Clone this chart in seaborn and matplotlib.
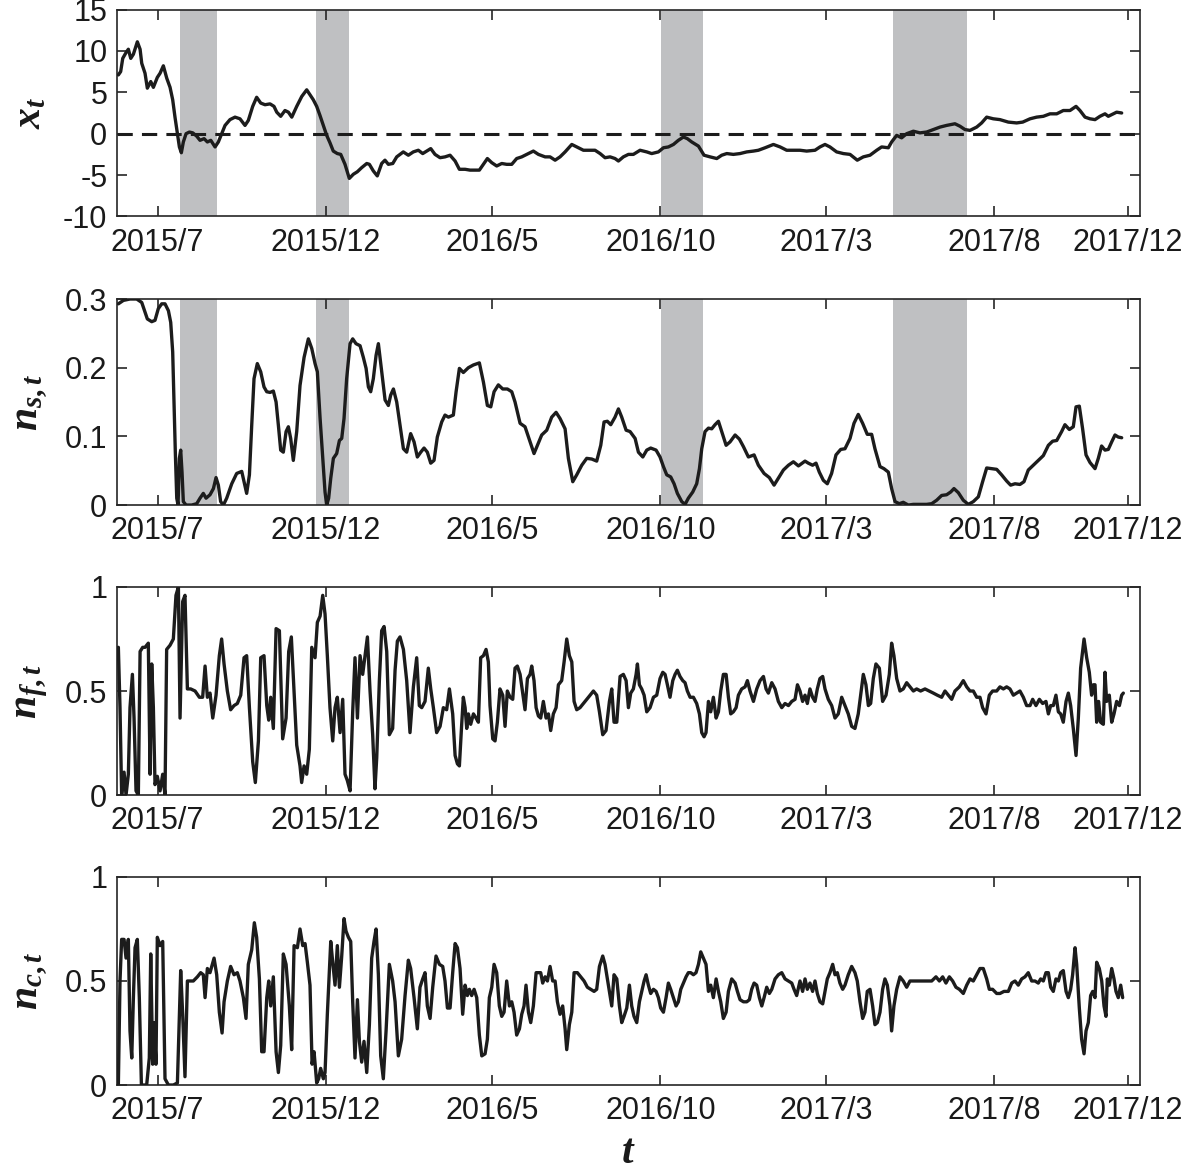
import pandas as pd
import matplotlib
matplotlib.use('Agg')
import matplotlib.pyplot as plt
import seaborn as sns

# day 0 of the time axis
start = pd.Timestamp('2015-05-25')

# x_t
xt_day = [1.2, 3.3, 5.2, 8.2, 10.3, 12.5, 14.9, 18.5, 21, 22.5, 25.5, 27.6, 30.7, 33.1, 36.7, 39.2, 42.2, 45.3,
          48.3, 50.7, 52.8, 55, 56.8, 58.6, 60.4, 62.9, 65.9, 69, 72.6, 75.6, 79.3, 82.3, 85.4, 89.3, 92.3, 95.4,
          98.4, 102.9, 107.5, 112, 116.6, 119.6, 123.6, 127.2, 130.9, 134.8, 139.4, 143, 145.5, 149.1, 153, 156.1,
          159.2, 163.7, 168.3, 172.8, 175.8, 178.8, 181.9, 184.9, 187.9, 191, 194, 197, 200.7, 203.8, 207.7, 211.6,
          215.3, 218.9, 222.9, 227.5, 229.9, 233.5, 237.1, 241.1, 244.1, 247.2, 251.2, 254.8, 260.8, 265.4, 269.9,
          274.5, 278.5, 282.1, 285.8, 289.7, 294.3, 298.8,
          303.4, 308, 311.9, 317.1, 321.6, 326.2, 330.1, 333.8, 337.4, 341.4, 345.9, 350.5, 355, 359.6, 364.1,
          368.7, 373.2, 379.3, 383.9, 390, 394.5, 399.1, 403.6, 408.2, 414.3, 420.3, 424.9, 431, 435.5, 440.1,
          444.6, 449.2, 453.7, 456.8, 461.3, 465.9, 470.4, 476.5, 482.6, 487.1, 493.2, 497.8, 502.3, 506.9, 511.4,
          516, 519.6, 523.6, 529.7, 534.8, 540.3, 546.4, 550.9, 555.5, 561.5, 567.6, 573.7, 579.8, 584.3, 590.4,
          598, 604.1, 610.1, 616.2,
          622.2, 628.3, 635.9, 640.4, 645, 649.5, 655.6, 661.7, 667.8, 674.4, 679.9, 686, 692.1, 696.6, 702.7,
          705.7, 710.3, 714.8, 719.4, 725.5, 731.5, 737.6, 743.7, 749.8, 755.8, 763.4, 768, 772.5, 777.1, 783.2,
          787.7, 792.3, 798.3, 804.4, 812, 819.6, 825.1, 831.8, 837.8, 843.9, 850, 856.1, 862.1, 868.2, 873.7,
          877.3, 881.9, 886.4, 891, 895.5, 900.1, 903.1, 907.7, 910.7, 915.3]
xt_val = [7.1, 7.5, 9.1, 9.8, 10.2, 9.1, 9.6, 11.1, 10.2, 8.5, 7.3, 5.5, 6.3, 5.6, 6.8, 7.3, 8.2, 6.7, 5.6, 4.1,
          2.0, 0, -1.6, -2.3, -1.0, 0, 0.2, 0.1, -0.3, -0.8, -0.6, -1.0, -0.8, -1.6, -1.0, 0, 1.0, 1.7, 2.0, 1.8,
          1.0, 1.6, 3.3, 4.4, 3.7, 3.5, 3.6, 3.3, 2.6, 2.1, 2.8, 2.6, 2.0, 3.3, 4.5, 5.3, 4.7, 4.1, 3.3, 2.2, 1.0,
          -0.2, -1.1, -2.1, -2.4, -2.5, -3.7, -5.4, -4.9, -4.6, -4.1, -3.6, -3.7, -4.5, -5.1, -3.6, -3.2, -3.7,
          -3.6, -2.8, -2.2, -2.6, -2.2, -2.0, -2.4, -2.1, -1.8, -2.5, -2.9, -2.8,
          -2.6, -3.3, -4.3, -4.3, -4.4, -4.4, -4.4, -3.7, -3.0, -3.5, -3.9, -3.6, -3.7, -3.7, -3.0, -2.8, -2.5,
          -2.1, -2.5, -2.8, -2.8, -3.2, -2.8, -2.2, -1.3, -1.7, -2.0, -2.0, -2.0, -2.4, -2.9, -2.8, -3.0, -3.3,
          -2.8, -2.5, -2.5, -2.0, -2.2, -2.4, -2.2, -1.7, -1.6, -1.3, -0.8, -0.4, -0.6, -1.0, -1.5, -2.6, -2.8,
          -3.0, -2.6, -2.4, -2.5, -2.4, -2.2, -2.1, -2.0, -1.7, -1.3, -1.6, -2.0, -2.0,
          -2.0, -2.1, -2.0, -1.6, -1.3, -1.6, -2.2, -2.4, -2.5, -3.2, -2.8, -2.6, -2.0, -1.6, -1.7, -1.0, -0.2,
          -0.5, 0, 0.3, 0.1, 0.2, 0.5, 0.8, 1.0, 1.2, 0.9, 0.5, 0.4, 0.8, 1.3, 2.0, 1.8, 1.7, 1.4, 1.3, 1.4, 1.8,
          2.0, 2.1, 2.4, 2.4, 2.8, 2.8, 3.3, 2.8, 2.0, 1.8, 1.7, 2.1, 2.4, 2.1, 2.4, 2.6, 2.5]

# n_s,t
ns_day = [1.2, 5.8, 11.8, 17.9, 22.5, 25.5, 27.6, 31.6, 34.6, 37.6, 40.7, 43.7, 46.8, 48.9, 50.7, 51.9, 53.1, 54.4,
          55.6, 56.8, 58, 59.2, 60.4, 62.9, 68, 72.6, 75.6, 78.6, 81.1, 84.7, 87.8, 90.2, 92.3, 94.4, 96.9, 99.9,
          104.5, 109, 113.6, 115.7, 118.1, 120.6, 122.7, 124.8, 127.8, 130.9, 133.9, 136.4, 139.4, 142.4, 144.9,
          147, 149.1, 151.5, 154, 156.1, 158.2, 160.6, 163.7, 166.7, 170.4, 174.3, 177.4, 180.4, 182.5, 185, 187.4,
          189.5, 191, 192.8, 194.7, 197.1, 200.1, 202.6, 204.7, 206.8, 209.2, 212.3, 214.7, 217.7, 221.4, 224.4,
          226.9, 229, 231.1, 233.5, 236, 238.1, 241.1, 244.2, 247.2, 249.3, 251.8, 254.8, 257.8, 260.9, 263.9,
          267.5, 270.6, 273.6, 276.7, 279.7, 282.7, 285.8, 288.8, 291.8, 295.8, 298.8, 301.9,
          306.4, 308.9, 311.9, 315.5, 320.1, 324.7, 330.1, 333.8, 337.4, 340.5, 343.5, 347.4, 351.4, 355.6, 359.6,
          362.6, 367.2, 371.7, 376.3, 379.9, 383, 386.9, 391.5, 396, 400, 403.6, 408.2, 411.2, 415.2, 418.8,
          423.4, 427.9, 432.5, 437, 440.7, 443.7, 446.7, 449.8, 453.7, 456.8, 459.8, 463.8, 467.4, 472, 475, 479,
          482.6, 486.2, 491.1, 494.7, 497.8, 500.8, 504.4, 507.5, 510.5, 514.5, 517.5, 520.5, 524.5, 528.1, 530.6,
          532.7, 535.7, 538.8, 541.8, 544.8, 547.9, 550.9, 554.9, 558.5, 563.1, 567, 570.7, 575.2, 580.4, 584.3,
          589.5, 594.3, 598.6, 602.5, 607.1, 611.7, 616.2, 620.8,
          626.8, 629.8, 633.7, 636.8, 639.8, 643.5, 647.1, 651, 655, 659.3, 663.2, 667.8, 671.4, 675.3, 679.3,
          683.5, 687.5, 690.5, 695.1, 698.7, 702.7, 705.7, 708.8, 712.7, 716.3, 720.9, 725.5, 731.5, 737.6, 742.2,
          746.7, 751.3, 755.8, 759.5, 762.5, 766.5, 771, 775.6, 780.1, 784.7, 788.6, 792.3, 796.8, 801.4, 805.9,
          810.5, 814.1, 818.1, 822.6, 826.3, 830.2, 834.8, 839.3, 843.9, 848.5, 852.4, 856.1, 860.6, 863.6, 867.6,
          871.2, 873.7, 876.7, 879.7, 882.8, 886.4, 891, 894, 897, 900.1, 903.1, 906.2, 909.2, 912.2, 915.3]
ns_val = [0.293, 0.298, 0.300, 0.300, 0.295, 0.281, 0.271, 0.267, 0.269, 0.286, 0.293, 0.293, 0.283, 0.266, 0.223,
          0.150, 0.077, 0.010, 0.0, 0.068, 0.080, 0.048, 0.005, 0, 0, 0.002, 0.010, 0.017, 0.010, 0.015, 0.024,
          0.040, 0.029, 0.005, 0, 0.010, 0.031, 0.046, 0.049, 0.034, 0.017, 0.044, 0.116, 0.184, 0.206, 0.194,
          0.172, 0.165, 0.164, 0.166, 0.150, 0.116, 0.080, 0.077, 0.107, 0.114, 0.097, 0.065, 0.107, 0.174, 0.215,
          0.242, 0.228, 0.206, 0.194, 0.126, 0.068, 0.019, 0, 0.010, 0.039, 0.068, 0.075, 0.094, 0.097, 0.126,
          0.184, 0.235, 0.242, 0.235, 0.232, 0.215, 0.199, 0.172, 0.165, 0.184, 0.218, 0.235, 0.194, 0.153, 0.145,
          0.160, 0.169, 0.150, 0.116, 0.082, 0.077, 0.104, 0.092, 0.070, 0.077, 0.083, 0.077, 0.061, 0.065, 0.099,
          0.121, 0.131, 0.128,
          0.131, 0.165, 0.199, 0.193, 0.200, 0.204, 0.207, 0.179, 0.145, 0.143, 0.165, 0.175, 0.169, 0.169, 0.165,
          0.150, 0.119, 0.114, 0.092, 0.075, 0.087, 0.102, 0.109, 0.128, 0.135, 0.126, 0.111, 0.068, 0.034, 0.044,
          0.058, 0.068, 0.067, 0.064, 0.087, 0.121, 0.122, 0.117, 0.128, 0.140, 0.128, 0.109, 0.107, 0.097, 0.077,
          0.070, 0.080, 0.083, 0.080, 0.070, 0.056, 0.044, 0.041, 0.031, 0.017, 0.005, 0.001, 0.010, 0.019, 0.031,
          0.053, 0.082, 0.107, 0.112, 0.111, 0.117, 0.122, 0.107, 0.087, 0.092, 0.102, 0.096, 0.085, 0.070, 0.073,
          0.058, 0.046, 0.040, 0.029, 0.039, 0.051, 0.058, 0.063, 0.057,
          0.064, 0.061, 0.058, 0.061, 0.048, 0.036, 0.031, 0.046, 0.073, 0.081, 0.082, 0.097, 0.119, 0.132, 0.119,
          0.103, 0.103, 0.082, 0.056, 0.053, 0.048, 0.024, 0.005, 0.002, 0.004, 0.0, 0.001, 0.001, 0.001, 0.002,
          0.007, 0.014, 0.015, 0.019, 0.024, 0.018, 0.007, 0.001, 0.005, 0.012, 0.034, 0.054, 0.053, 0.052, 0.044,
          0.035, 0.029, 0.031, 0.030, 0.034, 0.051, 0.058, 0.065, 0.072, 0.087, 0.093, 0.094, 0.107, 0.117, 0.110,
          0.114, 0.143, 0.144, 0.111, 0.073, 0.062, 0.053, 0.068, 0.086, 0.080, 0.081, 0.092, 0.102, 0.099, 0.098]

# n_f,t
nf_day = [1.2, 2.7, 4.2, 6.4, 8.2, 10.3, 11.8, 14, 15.5, 17.3, 19.4, 21, 23.4, 25.5, 28.5, 30.1, 31.6, 33.1, 34.6,
          36.7, 39.2, 41.6, 43.7, 45.2, 48.3, 51.3, 53.7, 55.9, 57.4, 59.8, 61.9, 64.1, 67.1, 71.1, 75, 78, 80.2,
          82.3, 84.7, 87.2, 90.2, 93.2, 95.3, 97.5, 100.5, 103.5, 106.6, 109.6, 112.7, 115.7, 118.1, 120.6, 123.6,
          126, 128.8, 130.9, 133.9, 136.4, 138.2, 140, 142.4, 144.9, 147.9, 150.9, 154, 156.4, 158.8, 161.3, 163.7,
          166.7, 168.2, 170.4, 172.8, 175.2, 177.4, 180.4, 182.5, 185, 187.4, 189.5, 191.6, 194, 196.5, 198.6,
          200.7, 203.2, 205.6, 207.7, 209.8, 212.3, 214.7, 216.8, 219, 221.4, 223.8, 225.9, 228.1, 230.5, 232.9,
          235, 236.6, 239, 241.1, 243.3, 245.7, 248.1, 251.1, 253.3, 255.4, 257.8, 260.9, 263.9, 266.9, 270, 273,
          275.4, 277.6, 280.6, 283.6, 285.8, 288.2, 291.2, 294.3, 297.3, 300.3, 302.8,
          305.8, 308, 310.1, 311.9, 314, 315.5, 317.1, 318.6, 320.1, 322.2, 324.7, 327.1, 329.2, 331.3, 333.8,
          336.2, 338.3, 339.8, 342.3, 344.4, 346.5, 348.9, 351.4, 353.5, 355.6, 358.1, 360.5, 362.6, 364.7, 367.2,
          369.6, 371.7, 373.9, 376.3, 377.8, 379.9, 381.8, 383.9, 386, 388.4, 390.9, 393, 395.1, 397.5, 400,
          402.1, 405.1, 407.3, 409.7, 412.1, 414.3, 416.4, 418.8, 421.8, 424.9, 427.9, 431, 434, 437, 439.5,
          442.5, 445.5, 448.6, 450.7, 452.8, 455.3, 458.3, 461.3, 463.8, 465.9, 468, 470.4, 472.9, 474.1, 475.9,
          478, 480.2, 482.6, 485.6, 488.7, 491.7, 494.7, 497.2, 499.3, 501.4, 503.8, 506.3, 508.4, 510.5, 512.9,
          515.4, 517.5, 519.6, 522.1, 525.1, 528.1, 530.6, 532.7, 534.8, 536.6, 538.8, 540.9, 543.3, 545.8, 547.9,
          550, 552.4, 554.9, 557, 559.1, 561.5, 564, 566.1, 569.1, 572.2, 574.3, 576.7, 579.8, 582.8, 585.8,
          588.9, 591.3, 593.4, 596.5, 599.5, 602.5, 605.6, 608.6, 611.7, 614.7, 617.7, 619.9,
          622.2, 624.6, 626.8, 628.9, 631.3, 633.7, 635.9, 638, 640.4, 642.9, 645, 648, 651.1, 654.1, 657.1,
          660.2, 663.2, 666.2, 669.3, 672.3, 675.3, 677.5, 679.9, 682.3, 684.5, 686.6, 689, 691.4, 694.5, 697.5,
          700.6, 703.6, 705.7, 707.8, 710.3, 713.3, 716.3, 719.4, 722.4, 725.5, 728.5, 732.1, 736.1, 740, 743.7,
          747.3, 751.3, 754.3, 757.3, 760.4, 763.4, 767.4, 771, 774.1, 777.1, 780.1, 783.2, 786.2, 788.6, 791.7,
          794.7, 797.7, 801.4, 804.4, 807.5, 810.5, 813.5, 816.6, 819.6, 822.6, 825.7, 828.7, 831.8, 834.2, 837.2,
          840.3, 843.3, 846.3, 848.5, 850.6, 853, 855.4, 857.6, 859.7, 862.1, 864.6, 866.7, 868.8, 871.2, 873.7,
          875.8, 877.9, 881, 883.4, 885.8, 887.9, 889.5, 891, 892.5, 894.3, 896.1, 898.6, 900.1, 901.6, 904,
          906.2, 908.3, 910.7, 913.2, 915.3, 916.8]
nf_val = [0.71, 0.42, 0, 0.11, 0, 0.10, 0.42, 0.58, 0.37, 0.02, 0, 0.69, 0.71, 0.71, 0.73, 0.10, 0.63, 0.42, 0.05,
          0.09, 0.02, 0.10, 0, 0.70, 0.72, 0.75, 0.96, 1.0, 0.37, 0.93, 0.96, 0.51, 0.51, 0.50, 0.47, 0.47, 0.62,
          0.47, 0.49, 0.37, 0.48, 0.67, 0.75, 0.63, 0.50, 0.41, 0.43, 0.44, 0.48, 0.66, 0.67, 0.42, 0.16, 0.06,
          0.26, 0.66, 0.67, 0.43, 0.36, 0.47, 0.32, 0.80, 0.79, 0.27, 0.37, 0.69, 0.76, 0.50, 0.24, 0.14, 0.06,
          0.14, 0.10, 0.22, 0.71, 0.66, 0.83, 0.86, 0.96, 0.87, 0.67, 0.42, 0.26, 0.42, 0.47, 0.30, 0.46, 0.10,
          0.07, 0.02, 0.40, 0.66, 0.37, 0.67, 0.58, 0.67, 0.76, 0.50, 0.29, 0.03, 0.18, 0.55, 0.79, 0.81, 0.69,
          0.29, 0.32, 0.60, 0.74, 0.76, 0.70, 0.55, 0.30, 0.52, 0.66, 0.43, 0.42, 0.45, 0.61, 0.51, 0.42, 0.30,
          0.33, 0.42, 0.41, 0.51,
          0.39, 0.19, 0.15, 0.14, 0.34, 0.47, 0.42, 0.32, 0.39, 0.34, 0.39, 0.37, 0.35, 0.66, 0.67, 0.70, 0.64,
          0.43, 0.27, 0.26, 0.35, 0.51, 0.48, 0.33, 0.50, 0.47, 0.46, 0.61, 0.62, 0.58, 0.49, 0.41, 0.56, 0.58,
          0.62, 0.55, 0.42, 0.38, 0.37, 0.45, 0.37, 0.39, 0.31, 0.39, 0.42, 0.53, 0.55, 0.64, 0.75, 0.67, 0.64,
          0.45, 0.41, 0.42, 0.44, 0.46, 0.48, 0.50, 0.48, 0.40, 0.29, 0.31, 0.45, 0.51, 0.35, 0.35, 0.57, 0.58,
          0.55, 0.42, 0.49, 0.51, 0.58, 0.63, 0.53, 0.51, 0.48, 0.40, 0.42, 0.47, 0.48, 0.56, 0.59, 0.58, 0.53,
          0.47, 0.55, 0.58, 0.60, 0.57, 0.55, 0.54, 0.50, 0.47, 0.47, 0.44, 0.39, 0.30, 0.28, 0.30, 0.45, 0.40,
          0.47, 0.37, 0.40, 0.50, 0.58, 0.58, 0.47, 0.39, 0.40, 0.42, 0.48, 0.51, 0.52, 0.55, 0.50, 0.45, 0.51,
          0.55, 0.57, 0.51, 0.49, 0.54, 0.51, 0.45, 0.42, 0.44, 0.43, 0.45, 0.46, 0.53,
          0.50, 0.45, 0.48, 0.44, 0.51, 0.47, 0.45, 0.51, 0.56, 0.57, 0.51, 0.46, 0.43, 0.37, 0.39, 0.47, 0.43,
          0.39, 0.33, 0.32, 0.39, 0.48, 0.58, 0.53, 0.43, 0.44, 0.56, 0.63, 0.61, 0.45, 0.48, 0.58, 0.73, 0.67,
          0.56, 0.50, 0.51, 0.54, 0.52, 0.50, 0.51, 0.50, 0.51, 0.50, 0.49, 0.48, 0.47, 0.50, 0.48, 0.46, 0.50,
          0.52, 0.55, 0.52, 0.50, 0.50, 0.47, 0.47, 0.42, 0.39, 0.48, 0.50, 0.50, 0.52, 0.51, 0.52, 0.51, 0.48,
          0.49, 0.50, 0.47, 0.43, 0.43, 0.46, 0.43, 0.46, 0.44, 0.45, 0.39, 0.43, 0.43, 0.48, 0.40, 0.39, 0.35,
          0.45, 0.49, 0.43, 0.32, 0.19, 0.37, 0.61, 0.75, 0.66, 0.59, 0.48, 0.53, 0.53, 0.35, 0.45, 0.35, 0.34,
          0.59, 0.45, 0.48, 0.35, 0.39, 0.45, 0.43, 0.48, 0.49]

# n_c,t
nc_day = [1.2, 2.7, 4.2, 6.4, 8.2, 10.3, 11.8, 13.4, 14.9, 16.4, 18.5, 20.3, 22.2, 24.6, 27, 29.4, 30.7, 32.5, 33.7,
          35.5, 36.7, 39.2, 41.6, 43.7, 46.8, 51.3, 55, 58, 59.8, 61.9, 64.1, 66.5, 69.5, 73.2, 76.2, 78.6, 80.2,
          82.3, 84.7, 88.4, 90.8, 93.2, 95.7, 97.5, 100.5, 103.5, 106.6, 109.6, 112, 115.1, 117.5, 119.6, 122.7,
          125.1, 127.2, 129.7, 131.8, 133.9, 136.4, 138.2, 140, 142.4, 144.9, 147, 149.1, 151.5, 154, 157, 159.1,
          161.3, 164.3, 166.7, 169.2, 171.3, 173.4, 175.8, 177.7, 179.5, 181.9, 183.7, 185.5, 188, 189.5, 191.6,
          194.7, 196.5, 198.6, 200.7, 202.6, 204.7, 206.8, 208.6, 210.8, 212.9, 214.7, 216.8, 219, 220.8, 222.9,
          225, 227.5, 229.9, 232, 234.1, 236, 238.1, 240.2, 242.6, 245.1, 248.1, 251.1, 253.3, 256.3, 259.3,
          262.4, 265.4, 267.5, 270.6, 273.6, 276, 278.5, 280.6, 282.7, 285.2, 287.6, 290.6, 293.7, 296.7, 298.8,
          301,
          303.4, 305.8, 308, 310.1, 312.5, 314.9, 317.1, 319.2, 321, 323.1, 325.3, 327.7, 330.1, 332.3, 335.3,
          337.4, 339.2, 341.4, 343.5, 345.9, 348.3, 350.5, 352.6, 355, 357.5, 359.6, 361.7, 364.1, 366.6, 368.7,
          370.8, 372.6, 374.8, 376.9, 379.3, 381.8, 383.9, 386, 387.8, 390, 392.1, 394.5, 396.9, 399.1, 401.2,
          403.6, 406, 408.2, 409.7, 412.1, 414.3, 416.4, 419.4, 422.4, 425.5, 428.5, 431.6, 434.6, 437, 439.5,
          442.5, 444.6, 446.7, 448.6, 450.7, 452.8, 455.3, 457.7, 459.8, 461.9, 464.4, 466.8, 468.9, 471, 473.5,
          475.9, 478, 480.2, 482, 484.1, 486.2, 488.7, 491.1, 493.2, 495.3, 497.8, 500.2, 502.3, 504.4, 506.9,
          509.3, 511.4, 513.6, 516, 518.4, 520.5, 522.7, 525.1, 527.5, 529.7, 531.8, 534.2, 536.6, 538.8, 540.9,
          543.3, 545.8, 547.9, 550, 552.4, 554.9, 557, 560, 563.1, 565.2, 567.6, 570.7, 573.7, 576.1, 578.2,
          580.4, 582.8, 585.2, 587.4, 589.5, 591.9, 594.3, 596.5, 599.5, 602.5, 605.6, 608.6, 611.7, 614.7, 616.8,
          619.2,
          622.2, 624.6, 626.8, 628.9, 631.3, 633.7, 635.9, 638, 640.4, 642.9, 645, 647.1, 649.5, 652, 654.1,
          656.2, 658.6, 661.1, 663.2, 666.2, 669.3, 672.3, 674.4, 676.9, 679.3, 681.4, 683.5, 686, 688.4, 690.5,
          692.7, 695.1, 697.5, 699.6, 701.8, 704.2, 705.7, 707.8, 710.3, 713.3, 716.3, 719.4, 722.4, 725.5, 728.5,
          733.1, 737.6, 742.2, 746.1, 749.2, 752.2, 755.2, 758.3, 761.3, 764.3, 767.4, 771, 774.1, 777.1, 780.1,
          783.2, 786.2, 789.2, 792.3, 794.7, 797.7, 801.4, 804.4, 808.1, 812, 815.1, 818.1, 821.1, 824.2, 827.2,
          830.2, 833.3, 836.3, 839.3, 841.5, 843.9, 846.3, 848.5, 850.6, 853, 855.4, 857.6, 859.7, 862.1, 864.6,
          866.7, 868.8, 870.6, 872.8, 874.3, 876.7, 878.8, 881, 882.8, 884.9, 887, 888.9, 891, 892.5, 894.9,
          897.1, 899.2, 901, 902.2, 904, 906.2, 908.3, 910.1, 912.2, 914.4, 916.2]
nc_val = [0, 0.50, 0.70, 0.70, 0.61, 0.70, 0.26, 0.13, 0.42, 0.66, 0.70, 0.42, 0, 0, 0, 0.13, 0.63, 0.10, 0.30, 0.10,
          0.71, 0.67, 0.69, 0.03, 0, 0, 0.01, 0.55, 0.34, 0.04, 0.50, 0.50, 0.50, 0.52, 0.54, 0.53, 0.42, 0.56,
          0.54, 0.61, 0.53, 0.35, 0.25, 0.40, 0.50, 0.57, 0.53, 0.54, 0.50, 0.42, 0.32, 0.58, 0.65, 0.78, 0.71,
          0.51, 0.16, 0.16, 0.42, 0.50, 0.38, 0.52, 0.16, 0.06, 0.19, 0.63, 0.58, 0.38, 0.17, 0.67, 0.66, 0.75,
          0.67, 0.68, 0.59, 0.48, 0.10, 0.16, 0.01, 0.03, 0.08, 0.03, 0.06, 0.34, 0.69, 0.59, 0.48, 0.67, 0.47,
          0.62, 0.80, 0.74, 0.71, 0.69, 0.40, 0.13, 0.41, 0.21, 0.11, 0.21, 0.06, 0.29, 0.61, 0.69, 0.75, 0.53,
          0.14, 0.03, 0.26, 0.58, 0.50, 0.40, 0.14, 0.22, 0.43, 0.60, 0.56, 0.42, 0.27, 0.47, 0.51, 0.54, 0.38,
          0.32, 0.47, 0.62, 0.58, 0.57, 0.50, 0.37,
          0.37, 0.54, 0.68, 0.66, 0.56, 0.34, 0.48, 0.43, 0.46, 0.43, 0.46, 0.42, 0.24, 0.14, 0.15, 0.22, 0.42,
          0.47, 0.58, 0.54, 0.38, 0.33, 0.35, 0.50, 0.38, 0.40, 0.35, 0.24, 0.27, 0.34, 0.38, 0.48, 0.35, 0.30,
          0.38, 0.54, 0.54, 0.54, 0.49, 0.52, 0.50, 0.57, 0.50, 0.50, 0.40, 0.34, 0.38, 0.27, 0.17, 0.29, 0.35,
          0.54, 0.54, 0.52, 0.50, 0.47, 0.46, 0.45, 0.46, 0.57, 0.62, 0.58, 0.51, 0.45, 0.38, 0.53, 0.51, 0.38,
          0.30, 0.33, 0.37, 0.48, 0.38, 0.33, 0.30, 0.40, 0.45, 0.50, 0.53, 0.48, 0.44, 0.46, 0.45, 0.42, 0.37,
          0.35, 0.42, 0.49, 0.46, 0.42, 0.38, 0.40, 0.46, 0.49, 0.52, 0.54, 0.54, 0.53, 0.54, 0.58, 0.64, 0.61,
          0.58, 0.45, 0.48, 0.42, 0.51, 0.45, 0.40, 0.32, 0.35, 0.45, 0.51, 0.49, 0.45, 0.41, 0.40, 0.40, 0.41,
          0.46, 0.49, 0.48, 0.42, 0.38, 0.42, 0.47, 0.44, 0.46, 0.51, 0.53, 0.54, 0.51, 0.50, 0.49, 0.46, 0.43,
          0.50, 0.45, 0.51, 0.46, 0.49, 0.45, 0.50, 0.44, 0.40, 0.39, 0.45, 0.51, 0.54, 0.58, 0.53, 0.54, 0.49,
          0.46, 0.48, 0.53, 0.57, 0.54, 0.50, 0.40, 0.32, 0.35, 0.45, 0.46, 0.38, 0.29, 0.30, 0.35, 0.46, 0.51,
          0.48, 0.38, 0.26, 0.38, 0.46, 0.52, 0.50, 0.47, 0.50, 0.50, 0.50, 0.50, 0.50, 0.50, 0.52, 0.50, 0.52,
          0.49, 0.52, 0.50, 0.47, 0.46, 0.44, 0.48, 0.51, 0.50, 0.53, 0.56, 0.56, 0.51, 0.46, 0.46, 0.44, 0.44,
          0.45, 0.45, 0.49, 0.50, 0.48, 0.51, 0.52, 0.54, 0.50, 0.50, 0.49, 0.51, 0.50, 0.54, 0.54, 0.47, 0.45,
          0.51, 0.50, 0.54, 0.55, 0.45, 0.42, 0.46, 0.53, 0.66, 0.58, 0.37, 0.22, 0.15, 0.26, 0.30, 0.43, 0.45,
          0.42, 0.59, 0.56, 0.50, 0.38, 0.33, 0.51, 0.48, 0.56, 0.51, 0.45, 0.42, 0.48, 0.42]

# shaded periods (top two panels)
band_start = ['2015-07-21', '2015-11-22', '2016-10-02', '2017-05-01']
band_end = ['2015-08-24', '2015-12-22', '2016-11-09', '2017-07-07']

tick_dates = ['2015-07-01', '2015-12-01', '2016-05-01', '2016-10-01', '2017-03-01', '2017-08-01', '2017-12-01']
tick_labels = ['2015/7', '2015/12', '2016/5', '2016/10', '2017/3', '2017/8', '2017/12']

sns.set_style('ticks')
plt.rcParams['font.family'] = ['Liberation Sans', 'DejaVu Sans']
plt.rcParams['mathtext.fontset'] = 'custom'
plt.rcParams['mathtext.it'] = 'Liberation Serif:italic:bold'
plt.rcParams['mathtext.rm'] = 'Liberation Serif:bold'
plt.rcParams['mathtext.bf'] = 'Liberation Serif:bold'
plt.rcParams['axes.unicode_minus'] = False

ink = '#1c1c1c'
fig = plt.figure(figsize=(11.81, 11.74), dpi=100)

panels = [
    (xt_day, xt_val, r'$x_t$', [-10, -5, 0, 5, 10, 15], ['-10', '-5', '0', '5', '10', '15'], (-10, 15), 0.8156, 0.1763),
    (ns_day, ns_val, r'$n_{s,t}$', [0, 0.1, 0.2, 0.3], ['0', '0.1', '0.2', '0.3'], (0, 0.3), 0.5698, 0.1755),
    (nf_day, nf_val, r'$n_{f,t}$', [0, 0.5, 1], ['0', '0.5', '1'], (0, 1), 0.3228, 0.1772),
    (nc_day, nc_val, r'$n_{c,t}$', [0, 0.5, 1], ['0', '0.5', '1'], (0, 1), 0.0758, 0.1772),
]

for i, (days, vals, lab, yt, ytl, ylim, bottom, height) in enumerate(panels):
    ax = fig.add_axes([0.0991, bottom, 0.8662, height])
    dates = start + pd.to_timedelta(days, unit='D')
    if i < 2:
        for s, e in zip(band_start, band_end):
            ax.axvspan(pd.Timestamp(s), pd.Timestamp(e), color='#bfc0c2', lw=0, zorder=0)
    if i == 0:
        ax.axhline(0, color=ink, lw=2.2, ls=(0, (5, 3)), zorder=1)
    sns.lineplot(x=dates, y=vals, ax=ax, color=ink, linewidth=2.4, errorbar=None, zorder=3)
    ax.set_xlim(start, start + pd.Timedelta(days=932))
    ax.set_ylim(*ylim)
    ax.set_yticks(yt)
    ax.set_yticklabels(ytl)
    ax.set_xticks(pd.to_datetime(tick_dates))
    ax.set_xticklabels(tick_labels)
    ax.tick_params(direction='in', length=7, width=1.2, top=True, right=True,
                   labelsize=22, color='#262626', labelcolor='#1a1a1a')
    ax.tick_params(axis='x', pad=8)
    ax.tick_params(axis='y', pad=7)
    for sp in ax.spines.values():
        sp.set_linewidth(1.2)
        sp.set_color('#262626')
        sp.set_visible(True)
    ax.set_ylabel(lab, fontsize=30, color='#1a1a1a')
    ax.yaxis.set_label_coords(-0.066, 0.5)
    if i == 3:
        ax.set_xlabel(r'$t$', fontsize=30, color='#1a1a1a', labelpad=4)
    else:
        ax.set_xlabel('')

fig.savefig('out.png', dpi=100)
